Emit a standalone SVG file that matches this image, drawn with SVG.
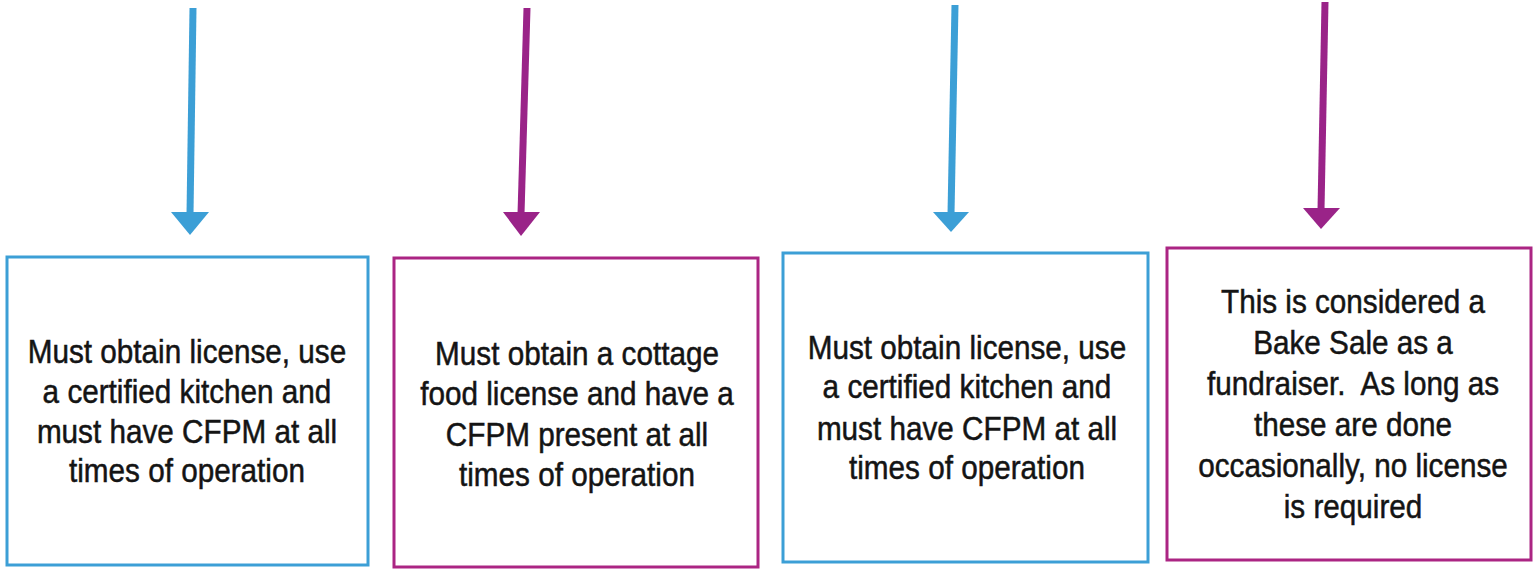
<svg xmlns="http://www.w3.org/2000/svg" width="1534" height="572" viewBox="0 0 1534 572">
<style>
  .bg { fill: #ffffff; }
  .box { fill: #ffffff; stroke-width: 3; }
  .blue { stroke: #3c9fd6; }
  .mag { stroke: #ab2583; }
  .shaft { fill: none; stroke-width: 7; stroke-linecap: butt; }
  .sblue { stroke: #3c9fd6; }
  .smag { stroke: #9a2388; }
  .hblue { fill: #3c9fd6; }
  .hmag { fill: #9a2388; }
  .t { font-family: "Liberation Sans", Arial, sans-serif; font-size: 33px; fill: #141414; stroke: #141414; stroke-width: 0.5; text-anchor: middle; }
</style>
<rect class="bg" x="0" y="0" width="1534" height="572"/>

<g id="connectors">
  <line class="shaft sblue" x1="193" y1="8" x2="190" y2="214"/>
  <polygon class="hblue" points="171,212 209,212 190,235"/>
  <line class="shaft smag" x1="527" y1="8" x2="521" y2="214"/>
  <polygon class="hmag" points="503,212 540,212 521,236"/>
  <line class="shaft sblue" x1="955" y1="5" x2="951" y2="214"/>
  <polygon class="hblue" points="933,212 969,212 951,232"/>
  <line class="shaft smag" x1="1325" y1="2" x2="1321" y2="210"/>
  <polygon class="hmag" points="1303,208 1340,208 1321,229"/>
</g>

<g id="node1">
  <rect class="box blue" x="7" y="257" width="361" height="308"/>
  <g transform="translate(187,0) scale(0.9,1)">
    <text class="t" x="0" y="363">Must obtain license, use</text>
    <text class="t" x="0" y="403">a certified kitchen and</text>
    <text class="t" x="0" y="443">must have CFPM at all</text>
    <text class="t" x="0" y="482">times of operation</text>
  </g>
</g>

<g id="node2">
  <rect class="box mag" x="394" y="258" width="364" height="309"/>
  <g transform="translate(577,0) scale(0.9,1)">
    <text class="t" x="0" y="365">Must obtain a cottage</text>
    <text class="t" x="0" y="405">food license and have a</text>
    <text class="t" x="0" y="446">CFPM present at all</text>
    <text class="t" x="0" y="486">times of operation</text>
  </g>
</g>

<g id="node3">
  <rect class="box blue" x="783" y="253" width="365" height="309"/>
  <g transform="translate(967,0) scale(0.9,1)">
    <text class="t" x="0" y="359">Must obtain license, use</text>
    <text class="t" x="0" y="398">a certified kitchen and</text>
    <text class="t" x="0" y="440">must have CFPM at all</text>
    <text class="t" x="0" y="479">times of operation</text>
  </g>
</g>

<g id="node4">
  <rect class="box mag" x="1167" y="248" width="364" height="312"/>
  <g transform="translate(1353,0) scale(0.9,1)">
    <text class="t" x="0" y="313">This is considered a</text>
    <text class="t" x="0" y="354">Bake Sale as a</text>
    <text class="t" x="0" y="395">fundraiser.&#160; As long as</text>
    <text class="t" x="0" y="436">these are done</text>
    <text class="t" x="0" y="477">occasionally, no license</text>
    <text class="t" x="0" y="518">is required</text>
  </g>
</g>
</svg>
